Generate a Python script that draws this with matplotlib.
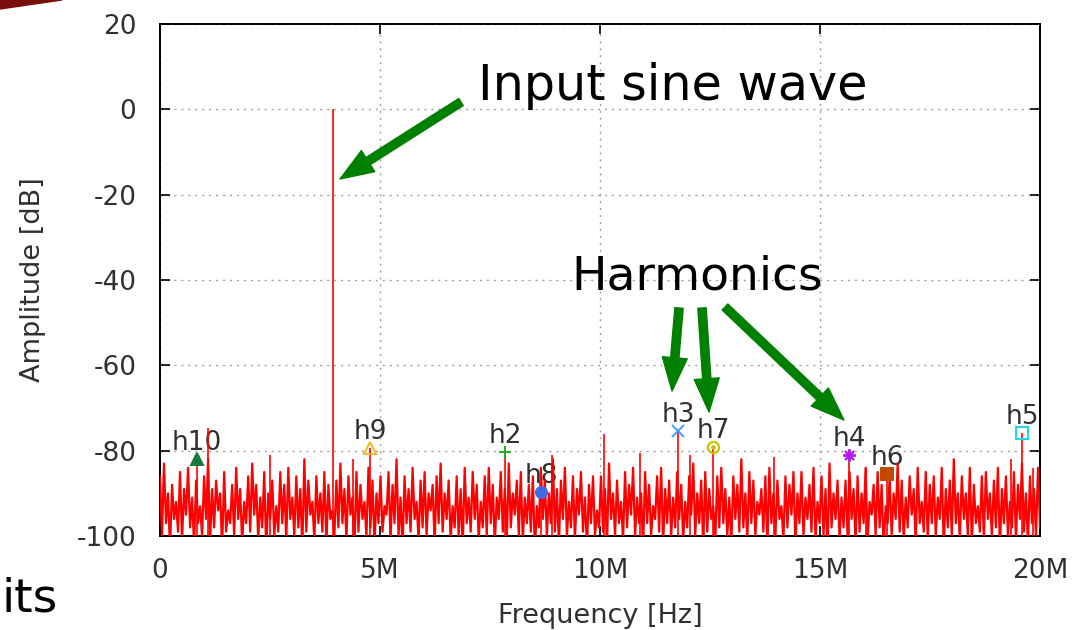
import numpy as np
import matplotlib
matplotlib.use("Agg")
import matplotlib.pyplot as plt
from matplotlib.patches import FancyArrowPatch, Polygon

plt.rcParams["axes.unicode_minus"] = False

# spectrum noise floor [dB], evenly spaced from 0 to 20 MHz
noise_db = [
    -86, -100, -83, -97, -90, -103, -88, -96, -92, -99, -85, -101, -89, -95, -84, -98, -91, -102, -87, -97,
    -93, -100, -86, -96, -82, -101, -89, -98, -87, -94, -90, -103, -85, -99, -94, -97, -88, -100, -84, -96,
    -89, -102, -92, -97, -86, -99, -83, -95, -88, -101, -91, -98, -85, -104, -90, -96, -87, -100, -93, -99,
    -85, -97, -88, -101, -84, -96, -91, -100, -86, -98, -89, -103, -82, -99, -87, -95, -92, -101, -86, -97,
    -90, -99, -85, -102, -88, -96, -94, -100, -87, -98, -83, -97, -89, -101, -86, -95, -91, -103, -85, -99,
    -88, -96, -92, -100, -84, -98, -87, -102, -90, -97, -86, -99, -93, -95, -85, -101, -88, -97, -82, -100,
    -91, -103, -86, -97, -89, -99, -84, -96, -92, -101, -87, -98, -85, -100, -90, -94, -88, -102, -86, -97,
    -83, -99, -90, -96, -87, -101, -93, -98, -86, -100, -89, -103, -84, -97, -91, -99, -85, -96, -88, -101,
    -92, -98, -86, -100, -84, -97, -88, -102, -91, -96, -85, -99, -89, -101, -83, -98, -90, -95, -87, -100,
    -85, -101, -91, -97, -88, -99, -86, -104, -93, -98, -84, -96, -87, -100, -90, -97, -82, -99, -89, -102,
    -87, -96, -84, -100, -92, -98, -86, -101, -89, -95, -85, -99, -91, -103, -88, -97, -86, -100, -94, -98,
    -86, -99, -89, -102, -83, -96, -90, -100, -87, -97, -92, -101, -85, -98, -88, -95, -84, -100, -91, -97,
    -90, -103, -85, -97, -88, -100, -93, -96, -86, -99, -84, -102, -89, -97, -87, -100, -91, -98, -85, -96,
    -88, -101, -92, -98, -86, -95, -83, -100, -90, -97, -87, -103, -85, -99, -89, -96, -93, -101, -86, -98,
    -84, -97, -89, -100, -91, -102, -86, -96, -88, -99, -82, -98, -90, -101, -85, -97, -87, -100, -92, -95,
    -89, -99, -86, -103, -84, -97, -90, -100, -87, -96, -93, -101, -86, -98, -88, -95, -85, -102, -90, -97,
    -85, -100, -91, -96, -88, -99, -84, -101, -92, -97, -86, -100, -89, -104, -83, -98, -90, -96, -87, -101,
    -91, -98, -87, -100, -85, -96, -89, -102, -86, -99, -90, -97, -84, -101, -92, -95, -88, -100, -85, -98,
    -88, -103, -93, -97, -86, -100, -90, -96, -83, -99, -87, -101, -91, -98, -86, -95, -89, -102, -84, -97,
    -92, -99, -85, -101, -88, -97, -86, -100, -91, -96, -84, -103, -89, -98, -87, -100, -82, -97, -90, -101,
    -86, -96, -90, -100, -84, -102, -88, -97, -93, -99, -86, -101, -85, -96, -90, -100, -87, -98, -84, -103,
    -89, -97, -86, -100, -92, -98, -85, -101, -88, -96, -83, -99, -90, -102, -86, -97, -89, -100, -84, -98,
]

# larger noise spurs
spur_freq = [1.09e6, 2.5e6, 4.39e6, 8.9e6, 10.1e6, 10.9e6, 12.05e6, 13.95e6, 16.05e6, 19.35e6, 19.85e6]
spur_db = [-74.7, -81, -82, -81, -76, -80.5, -81, -81.5, -84, -82, -84]

# input tone
tone_freq = 3.93e6
tone_db = 0

# harmonics
harm_names = ["h2", "h3", "h4", "h5", "h6", "h7", "h8", "h9", "h10"]
harm_freq = [7.84e6, 11.77e6, 15.66e6, 19.6e6, 16.52e6, 12.57e6, 8.66e6, 4.77e6, 0.84e6]
harm_db = [-80.3, -75.4, -81.0, -75.8, -85.5, -79.1, -89.7, -79.4, -82.0]
harm_color = ["#22b022", "#3f9bff", "#b01ff0", "#19d8e0", "#c04a00",
              "#c8c400", "#4169e1", "#ffb020", "#167a3a"]
harm_marker = ["+", "x", (8, 2, 0), "s", "s", "o", "o", "^", "^"]
harm_filled = [True, True, True, False, True, False, True, False, True]

W, H = 1073, 630
fig = plt.figure(figsize=(W / 100, H / 100), dpi=100)
ax = fig.add_axes([160 / W, 1 - 536 / H, 880 / W, 512 / H])

freq = np.linspace(0, 20e6, len(noise_db))
ax.plot(freq, noise_db, color="red", lw=1.6, zorder=3)
ax.vlines(spur_freq, -100, spur_db, color="red", lw=1.2, zorder=3)
ax.vlines([tone_freq], -100, [tone_db], color="red", lw=1.2, zorder=3)
ax.vlines(harm_freq, -100, harm_db, color="red", lw=1.2, zorder=3)

for name, f, db, c, m, filled in zip(harm_names, harm_freq, harm_db,
                                     harm_color, harm_marker, harm_filled):
    if m == "o" and not filled:
        ax.plot(f, db, marker="o", ms=8, mfc="none", mec=c, mew=1.6, zorder=5)
        ax.plot(f, db, marker="o", ms=2.5, mfc=c, mec=c, zorder=5)
    elif filled:
        ms = 9 if m in ("+", "x", (8, 2, 0)) else 8
        ax.plot(f, db, marker=m, ms=ms, color=c, mew=1.4, zorder=5)
    else:
        ax.plot(f, db, marker=m, ms=9, mfc="none", mec=c, mew=1.4, zorder=5)
    ax.text(f, db + 3.8, name, ha="center", va="center", fontsize=19,
            color="#303030", zorder=1)

ax.set_xlim(0, 20e6)
ax.set_ylim(-100, 20)
ax.set_xticks([0, 5e6, 10e6, 15e6, 20e6])
ax.set_xticklabels(["0", "5M", "10M", "15M", "20M"])
ax.set_yticks(range(-100, 21, 20))
ax.grid(True, color="#a0a0a0", ls=(0, (1.5, 3.5)), lw=1.0)
ax.tick_params(direction="in", length=7, width=1.2, top=True, right=True,
               labelsize=19, labelcolor="#303030")
ax.tick_params(axis="x", pad=16)
ax.tick_params(axis="y", pad=17)
for s in ax.spines.values():
    s.set_linewidth(1.4)

ax.set_xlabel("Frequency [Hz]", fontsize=19.5, color="#303030")
ax.set_ylabel("Amplitude [dB]", fontsize=19.5, color="#303030")
ax.xaxis.set_label_coords(0.5, -0.13)
ax.yaxis.set_label_coords(-0.13, 0.5)

# slide overlay: annotations and arrows
fig.text(478 / W, 1 - 100 / H, "Input sine wave", fontsize=35.5, va="baseline")
fig.text(571 / W, 1 - 290 / H, "Harmonics", fontsize=34, va="baseline")
fig.text(1 / W, 1 - 611 / H, "its", fontsize=34, va="baseline")

arrows = [((461, 102), (340, 179)),
          ((679, 308), (672, 391)),
          ((702, 308), (709, 412)),
          ((725, 307), (844, 420))]
for (x1, y1), (x2, y2) in arrows:
    fig.add_artist(FancyArrowPatch(
        (x1 / W, 1 - y1 / H), (x2 / W, 1 - y2 / H), transform=fig.transFigure,
        arrowstyle="simple,head_length=24,head_width=18,tail_width=6",
        mutation_scale=1, color="#008000", shrinkA=0, shrinkB=0))

fig.add_artist(Polygon([(0, 1), (62 / W, 1), (0, 1 - 9 / H)], closed=True,
                       transform=fig.transFigure, color="#7b0c0c"))

fig.savefig("out.png", dpi=100)
